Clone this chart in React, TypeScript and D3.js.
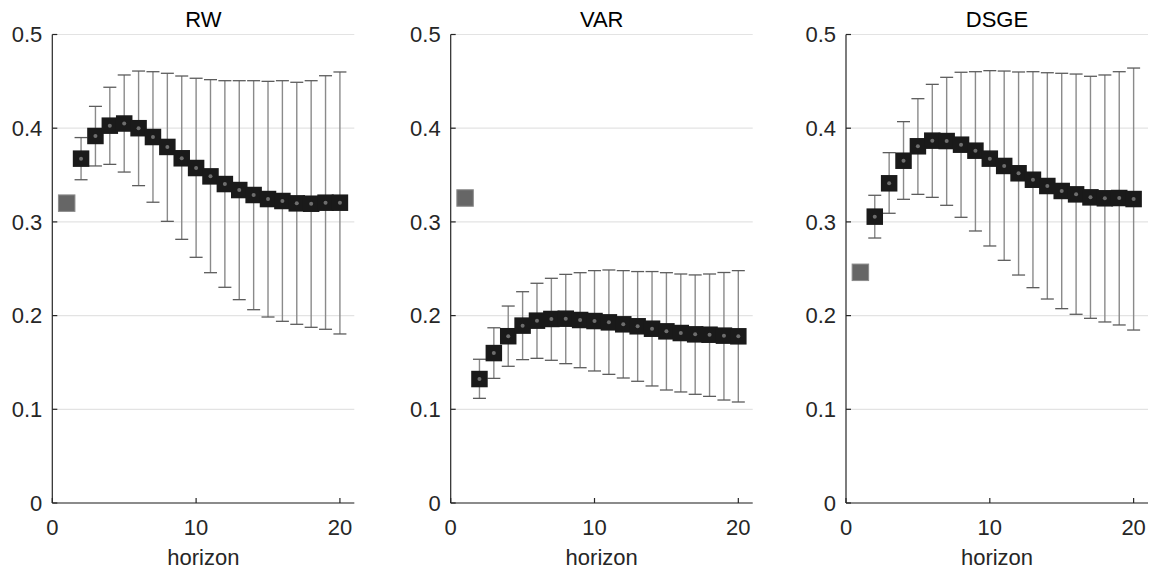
import React from "react";
import * as d3 from "d3";

const horizons = d3.range(2, 21);
const titles = ["RW", "VAR", "DSGE"];
const yTicks = [0, 0.1, 0.2, 0.3, 0.4, 0.5];
const xTicks = [0, 10, 20];

const rwFirst = 0.32;
const rwMean = [0.3675, 0.3917, 0.4027, 0.405, 0.4, 0.3906, 0.38, 0.3679, 0.3575, 0.3486, 0.3404, 0.334, 0.3287, 0.3244, 0.3223, 0.3198, 0.3194, 0.3205, 0.3205];
const rwUpper = [0.39, 0.4233, 0.4437, 0.4568, 0.461, 0.4603, 0.4586, 0.4557, 0.4533, 0.4518, 0.4507, 0.4507, 0.4507, 0.45, 0.4507, 0.449, 0.4507, 0.456, 0.46];
const rwLower = [0.345, 0.3597, 0.3614, 0.3532, 0.3387, 0.321, 0.3006, 0.2814, 0.2622, 0.2458, 0.2302, 0.217, 0.2063, 0.1985, 0.1939, 0.1907, 0.1875, 0.1854, 0.1804];

const varFirst = 0.3255;
const varMean = [0.1323, 0.16, 0.178, 0.1893, 0.1946, 0.1964, 0.1967, 0.1953, 0.1942, 0.1928, 0.1907, 0.1886, 0.186, 0.1832, 0.1814, 0.18, 0.1796, 0.1786, 0.1779];
const varUpper = [0.1534, 0.187, 0.2102, 0.2255, 0.2345, 0.2398, 0.244, 0.2458, 0.248, 0.2487, 0.248, 0.247, 0.247, 0.2458, 0.2444, 0.2434, 0.2444, 0.246, 0.248];
const varLower = [0.1117, 0.133, 0.1459, 0.153, 0.1544, 0.1523, 0.1487, 0.1444, 0.1409, 0.1373, 0.1334, 0.1299, 0.1249, 0.1206, 0.1185, 0.116, 0.1138, 0.1099, 0.1078];

const dsgeFirst = 0.2462;
const dsgeMean = [0.3056, 0.3412, 0.3653, 0.3807, 0.3867, 0.3863, 0.3824, 0.376, 0.3675, 0.3597, 0.3519, 0.345, 0.3383, 0.333, 0.3294, 0.3262, 0.3252, 0.3255, 0.3244];
const dsgeUpper = [0.3284, 0.3739, 0.407, 0.4315, 0.4468, 0.4543, 0.4597, 0.4603, 0.4614, 0.461, 0.46, 0.4603, 0.4592, 0.4586, 0.4578, 0.4554, 0.4568, 0.4603, 0.4642];
const dsgeLower = [0.2828, 0.3092, 0.3241, 0.3294, 0.3262, 0.3177, 0.3049, 0.2903, 0.2743, 0.259, 0.2433, 0.2298, 0.2177, 0.2074, 0.2014, 0.1971, 0.1932, 0.19, 0.1846];

const panels = [
  { title: titles[0], first: rwFirst, mean: rwMean, upper: rwUpper, lower: rwLower },
  { title: titles[1], first: varFirst, mean: varMean, upper: varUpper, lower: varLower },
  { title: titles[2], first: dsgeFirst, mean: dsgeMean, upper: dsgeUpper, lower: dsgeLower },
];

const W = 1151;
const H = 573;
const lefts = [52.3, 450.7, 846];
const pw = 302;
const top = 34.5;
const bottom = 503;
const font = "'Liberation Sans', Arial, Helvetica, sans-serif";
const fs = 22;
const axisColor = "#262626";

function Panel({ p, left }: { p: any; left: number }) {
  const x = d3.scaleLinear().domain([0, 21]).range([left, left + pw]);
  const y = d3.scaleLinear().domain([0, 0.5]).range([bottom, top]);
  const ms = 16.5;
  const cap = 6.5;
  return (
    <g>
      {yTicks.map((t) => (
        <line key={"g" + t} x1={x(0)} x2={x(21)} y1={y(t)} y2={y(t)} stroke="#e3e3e3" strokeWidth={1.2} />
      ))}
      <line x1={x(0)} x2={x(0)} y1={y(0.5)} y2={y(0)} stroke={axisColor} strokeWidth={1.2} />
      <line x1={x(0)} x2={x(21)} y1={y(0)} y2={y(0)} stroke={axisColor} strokeWidth={1.2} />
      {yTicks.map((t) => (
        <g key={"yt" + t}>
          <line x1={x(0)} x2={x(0) + 5} y1={y(t)} y2={y(t)} stroke={axisColor} strokeWidth={1.2} />
          <text x={x(0) - 10} y={y(t)} dy="0.35em" textAnchor="end" fontFamily={font} fontSize={fs} fill="#262626">
            {t === 0 ? "0" : d3.format(".1f")(t)}
          </text>
        </g>
      ))}
      {xTicks.map((t) => (
        <g key={"xt" + t}>
          <line x1={x(t)} x2={x(t)} y1={y(0)} y2={y(0) - 5} stroke={axisColor} strokeWidth={1.2} />
          <text x={x(t)} y={535} textAnchor="middle" fontFamily={font} fontSize={fs} fill="#262626">
            {t}
          </text>
        </g>
      ))}
      <text x={left + pw / 2} y={565} textAnchor="middle" fontFamily={font} fontSize={fs} fill="#262626">
        horizon
      </text>
      <text x={left + pw / 2} y={27} textAnchor="middle" fontFamily={font} fontSize={fs} fill="#000">
        {p.title}
      </text>
      {horizons.map((h, i) => (
        <g key={"eb" + h}>
          <line x1={x(h)} x2={x(h)} y1={y(p.upper[i])} y2={y(p.lower[i])} stroke="#8a8a8a" strokeWidth={1.4} />
          <line x1={x(h) - cap} x2={x(h) + cap} y1={y(p.upper[i])} y2={y(p.upper[i])} stroke="#5c5c5c" strokeWidth={1.3} />
          <line x1={x(h) - cap} x2={x(h) + cap} y1={y(p.lower[i])} y2={y(p.lower[i])} stroke="#5c5c5c" strokeWidth={1.3} />
        </g>
      ))}
      <rect x={x(1) - ms / 2} y={y(p.first) - ms / 2} width={ms} height={ms} fill="#666666" stroke="#8c8c8c" strokeWidth={1} />
      {horizons.map((h, i) => (
        <rect key={"m" + h} x={x(h) - ms / 2} y={y(p.mean[i]) - ms / 2} width={ms} height={ms} fill="#1a1a1a" />
      ))}
      {horizons.map((h, i) => (
        <circle key={"d" + h} cx={x(h)} cy={y(p.mean[i])} r={2} fill="#6e6e6e" />
      ))}
    </g>
  );
}

export default function App() {
  return (
    <svg width={W} height={H} style={{ position: "absolute", left: 0, top: 0, background: "#fff" }}>
      <rect x={0} y={0} width={W} height={H} fill="#fff" />
      {panels.map((p, k) => (
        <Panel key={p.title} p={p} left={lefts[k]} />
      ))}
    </svg>
  );
}
